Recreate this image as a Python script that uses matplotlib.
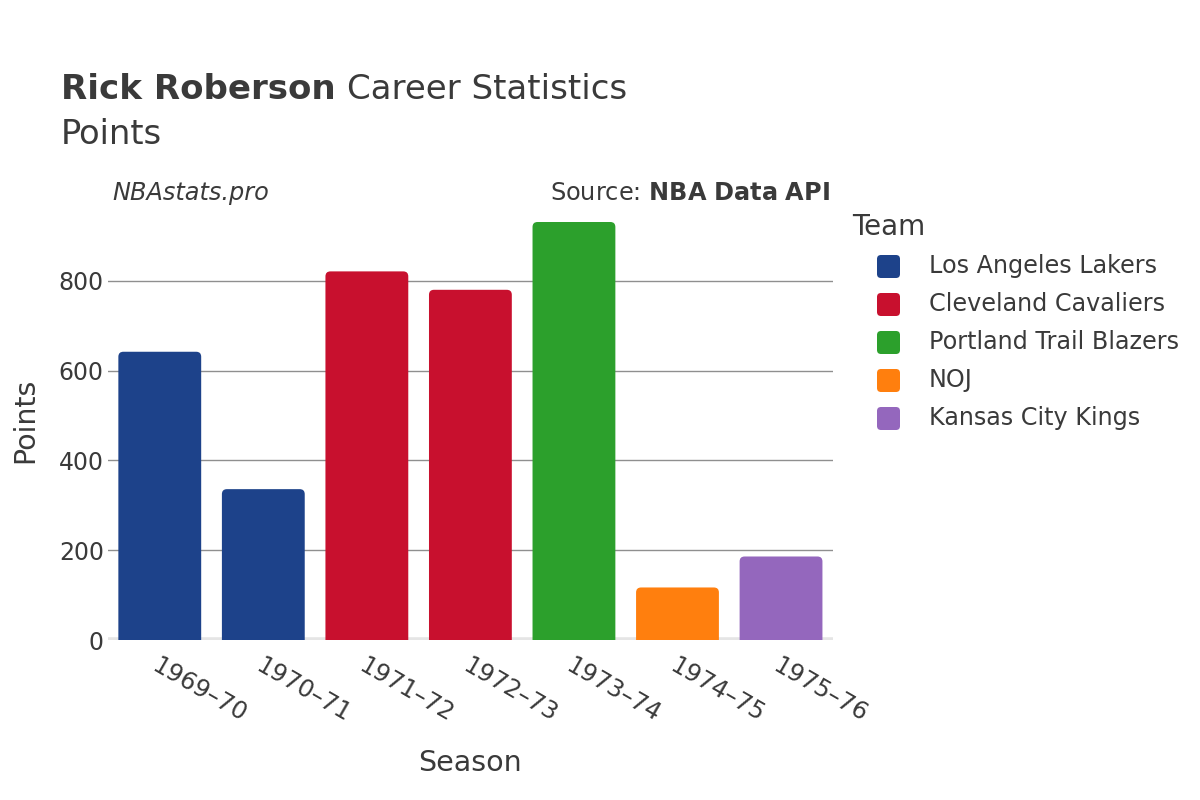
import matplotlib.pyplot as plt
from matplotlib.patches import FancyBboxPatch

seasons = ["1969–70", "1970–71", "1971–72", "1972–73", "1973–74", "1974–75", "1975–76"]
points = [642, 336, 821, 780, 931, 117, 186]
teams = ["Los Angeles Lakers", "Los Angeles Lakers", "Cleveland Cavaliers", "Cleveland Cavaliers",
         "Portland Trail Blazers", "NOJ", "Kansas City Kings"]
team_names = ["Los Angeles Lakers", "Cleveland Cavaliers", "Portland Trail Blazers", "NOJ", "Kansas City Kings"]
team_colors = ["#1D428A", "#C8102E", "#2CA02C", "#FF7F0E", "#9467BD"]
yticks = [0, 200, 400, 600, 800]

color_of = dict(zip(team_names, team_colors))
txt = "#3a3a3a"

fig = plt.figure(figsize=(12, 8), dpi=100)
ax = fig.add_axes([0.09, 0.2, 0.604, 0.55])
ymax = 980
ax.set_xlim(-0.5, len(seasons) - 0.5)
ax.set_ylim(0, ymax)

# aspect for rounded corners (data units per pixel)
px_x = (len(seasons)) / (0.604 * 1200)
px_y = ymax / (0.55 * 800)
for i, (v, t) in enumerate(zip(points, teams)):
    r = 5
    box = FancyBboxPatch((i - 0.4, -20), 0.8, v + 20,
                         boxstyle="round,pad=0,rounding_size=%f" % (r * px_x),
                         mutation_aspect=px_y / px_x,
                         fc=color_of[t], ec="none", zorder=3, clip_on=True)
    ax.add_patch(box)

ax.set_yticks(yticks)
ax.set_yticklabels([str(v) for v in yticks])
ax.grid(axis="y", color="#8f8f8f", linewidth=1, zorder=1)
ax.axhline(0, color="#e5e5e5", linewidth=4, zorder=2)
for s in ax.spines.values():
    s.set_visible(False)
ax.tick_params(axis="both", length=0, labelcolor=txt)
ax.tick_params(axis="y", pad=3, labelsize=17)
ax.set_xticks(range(len(seasons)))
ax.set_xticklabels(seasons, rotation=-30, ha="left", va="top", rotation_mode="anchor")
ax.tick_params(axis="x", pad=10, labelsize=17.5)

ax.set_xlabel("Season", fontsize=20.5, color=txt, labelpad=16)
ax.set_ylabel("Points", fontsize=20.5, color=txt, labelpad=14)

t1 = fig.text(0.051, 0.876, "Rick Roberson", fontsize=24.5, fontweight="bold", color=txt)
fig.canvas.draw()
bb = t1.get_window_extent()
fig.text(bb.x1 / 1200 + 0.009, 0.876, "Career Statistics", fontsize=24.5, color=txt)
fig.text(0.051, 0.82, "Points", fontsize=24.3, color=txt)
fig.text(0.094, 0.75, "NBAstats.pro", fontsize=17.3, style="italic", color=txt)
fig.text(0.692, 0.75, "Source: $\\bf{NBA\\ Data\\ API}$", fontsize=17.3, color=txt, ha="right")

# legend
lax = fig.add_axes([0, 0, 1, 1])
lax.set_xlim(0, 1200)
lax.set_ylim(800, 0)
lax.axis("off")
lax.text(852, 227, "Team", fontsize=20, color=txt, va="center")
for k, (name, col) in enumerate(zip(team_names, team_colors)):
    y = 266 + k * 38
    lax.add_patch(FancyBboxPatch((877, y - 11), 23, 23,
                                 boxstyle="round,pad=0,rounding_size=4",
                                 fc=col, ec="none"))
    lax.text(929, y, name, fontsize=17.2, color=txt, va="center")

fig.savefig("out.png", dpi=100)
